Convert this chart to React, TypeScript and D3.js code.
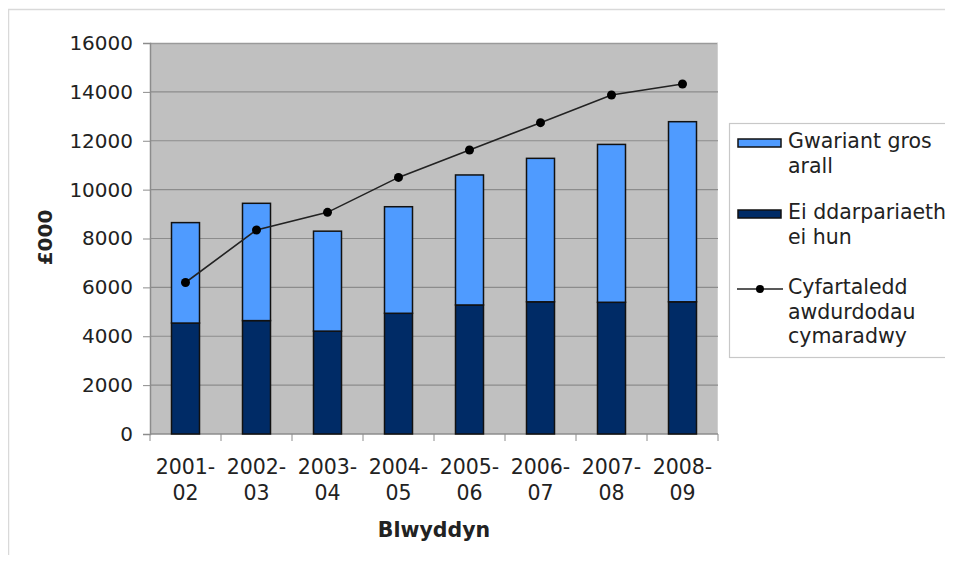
import React, { useEffect, useRef } from 'react';
import * as d3 from 'd3';

const years = ['2001-02', '2002-03', '2003-04', '2004-05', '2005-06', '2006-07', '2007-08', '2008-09'];
const ownProvision = [4540, 4640, 4210, 4940, 5280, 5410, 5390, 5410];
const otherGross = [4110, 4800, 4090, 4360, 5320, 5870, 6460, 7370];
const comparableAvg = [6200, 8350, 9070, 10500, 11620, 12740, 13870, 14320];
const yTicks = [0, 2000, 4000, 6000, 8000, 10000, 12000, 14000, 16000];

const seriesNames = ['Gwariant gros arall', 'Ei ddarpariaeth ei hun', 'Cyfartaledd awdurdodau cymaradwy'];

const W = 953;
const H = 563;
const font = 'DejaVu Sans, Verdana, sans-serif';

const App: React.FC = () => {
  const ref = useRef<SVGSVGElement | null>(null);

  useEffect(() => {
    if (!ref.current) return;
    const svg = d3.select(ref.current);
    svg.selectAll('*').remove();

    const margin = { top: 43, left: 150, right: 235, bottom: 129 };
    const innerW = W - margin.left - margin.right;
    const innerH = H - margin.top - margin.bottom;

    // outer frame (only top and left visible)
    svg.append('rect').attr('width', W).attr('height', H).attr('fill', '#fff');
    svg.append('line').attr('x1', 8).attr('x2', W).attr('y1', 9.5).attr('y2', 9.5)
      .attr('stroke', '#d9d9d9').attr('stroke-width', 1.5);
    svg.append('line').attr('x1', 8.5).attr('x2', 8.5).attr('y1', 9).attr('y2', H)
      .attr('stroke', '#d9d9d9').attr('stroke-width', 1.5);

    const g = svg.append('g').attr('transform', `translate(${margin.left},${margin.top})`);

    const x = d3.scaleBand().domain(years).range([0, innerW]);
    const y = d3.scaleLinear().domain([0, 16000]).range([innerH, 0]);

    g.append('rect').attr('width', innerW).attr('height', innerH).attr('fill', '#c0c0c0');
    g.append('line').attr('x1', 0).attr('x2', innerW).attr('y1', 0.5).attr('y2', 0.5)
      .attr('stroke', '#9a9a9a').attr('stroke-width', 1.5);
    g.append('line').attr('x1', innerW - 0.5).attr('x2', innerW - 0.5).attr('y1', 0).attr('y2', innerH)
      .attr('stroke', '#d0d0d0').attr('stroke-width', 1);

    g.selectAll('.grid')
      .data(yTicks.filter((t) => t > 0 && t < 16000))
      .enter()
      .append('line')
      .attr('x1', 0)
      .attr('x2', innerW)
      .attr('y1', (d) => y(d))
      .attr('y2', (d) => y(d))
      .attr('stroke', '#8c8c8c')
      .attr('stroke-width', 1.2);

    const yAxis = g.append('g').call(d3.axisLeft(y).tickValues(yTicks).tickSize(7).tickPadding(10).tickFormat(d3.format('d')));
    yAxis.select('.domain').attr('stroke', '#8c8c8c').attr('stroke-width', 1.5);
    yAxis.selectAll('.tick line').attr('stroke', '#8c8c8c');
    yAxis.selectAll('.tick text').attr('font-family', font).attr('font-size', 20).attr('fill', '#222');

    // x axis
    g.append('line').attr('x1', 0).attr('x2', innerW).attr('y1', innerH).attr('y2', innerH)
      .attr('stroke', '#8c8c8c').attr('stroke-width', 1.5);
    g.selectAll('.xtick')
      .data(d3.range(years.length + 1))
      .enter()
      .append('line')
      .attr('x1', (i) => i * x.step())
      .attr('x2', (i) => i * x.step())
      .attr('y1', innerH)
      .attr('y2', innerH + 7)
      .attr('stroke', '#8c8c8c');

    const labels = g.selectAll('.xlab')
      .data(years)
      .enter()
      .append('text')
      .attr('x', (d) => (x(d) || 0) + x.bandwidth() / 2)
      .attr('y', innerH + 40)
      .attr('text-anchor', 'middle')
      .attr('font-family', font)
      .attr('font-size', 20.5)
      .attr('fill', '#222');
    labels.append('tspan').attr('x', (d) => (x(d) || 0) + x.bandwidth() / 2).text((d) => d.slice(0, 5));
    labels.append('tspan').attr('x', (d) => (x(d) || 0) + x.bandwidth() / 2).attr('dy', 26).text((d) => d.slice(5));

    const barW = 28;
    const bx = (d: string) => (x(d) || 0) + x.bandwidth() / 2 - barW / 2;

    g.selectAll('.own')
      .data(years)
      .enter()
      .append('rect')
      .attr('x', (d) => bx(d))
      .attr('y', (d, i) => y(ownProvision[i]))
      .attr('width', barW)
      .attr('height', (d, i) => innerH - y(ownProvision[i]))
      .attr('fill', '#002b66')
      .attr('stroke', '#111')
      .attr('stroke-width', 1.5);

    g.selectAll('.other')
      .data(years)
      .enter()
      .append('rect')
      .attr('x', (d) => bx(d))
      .attr('y', (d, i) => y(ownProvision[i] + otherGross[i]))
      .attr('width', barW)
      .attr('height', (d, i) => y(ownProvision[i]) - y(ownProvision[i] + otherGross[i]))
      .attr('fill', '#4f9bff')
      .attr('stroke', '#111')
      .attr('stroke-width', 1.5);

    const line = d3.line<number>()
      .x((d, i) => (x(years[i]) || 0) + x.bandwidth() / 2)
      .y((d) => y(d));
    g.append('path').datum(comparableAvg).attr('d', line).attr('fill', 'none')
      .attr('stroke', '#222').attr('stroke-width', 1.6);
    g.selectAll('.pt')
      .data(comparableAvg)
      .enter()
      .append('circle')
      .attr('cx', (d, i) => (x(years[i]) || 0) + x.bandwidth() / 2)
      .attr('cy', (d) => y(d))
      .attr('r', 4.5)
      .attr('fill', '#000');

    // axis titles
    svg.append('text')
      .attr('transform', `translate(52,${margin.top + innerH / 2 - 1}) rotate(-90)`)
      .attr('text-anchor', 'middle')
      .attr('font-family', font)
      .attr('font-size', 20)
      .attr('font-weight', 'bold')
      .attr('fill', '#222')
      .text('£000');
    svg.append('text')
      .attr('x', margin.left + innerW / 2)
      .attr('y', 537)
      .attr('text-anchor', 'middle')
      .attr('font-family', font)
      .attr('font-size', 20.5)
      .attr('font-weight', 'bold')
      .attr('fill', '#222')
      .text('Blwyddyn');

    // legend
    const lg = svg.append('g').attr('transform', 'translate(729,123)');
    lg.append('rect').attr('x', 0.5).attr('y', 0.5).attr('width', 222).attr('height', 234)
      .attr('fill', '#fff').attr('stroke', '#c8c8c8').attr('stroke-width', 1.2);
    const legendLines = [
      ['Gwariant gros', 'arall'],
      ['Ei ddarpariaeth', 'ei hun'],
      ['Cyfartaledd', 'awdurdodau', 'cymaradwy'],
    ];
    const tops = [20, 91, 166];
    legendLines.forEach((ls, k) => {
      const row = lg.append('g').attr('transform', `translate(0,${tops[k]})`);
      if (k < 2) {
        row.append('rect').attr('x', 9).attr('y', -4).attr('width', 43).attr('height', 8)
          .attr('fill', k === 0 ? '#4f9bff' : '#002b66').attr('stroke', '#111').attr('stroke-width', 1.5);
      } else {
        row.append('line').attr('x1', 8).attr('x2', 54).attr('y1', 0).attr('y2', 0)
          .attr('stroke', '#222').attr('stroke-width', 1.6);
        row.append('circle').attr('cx', 31).attr('r', 4).attr('fill', '#000');
      }
      const t = row.append('text').attr('font-family', font).attr('font-size', 20.5).attr('fill', '#222')
        .attr('y', 5);
      ls.forEach((s, j) => {
        t.append('tspan').attr('x', 59).attr('dy', j === 0 ? 0 : 24.5).text(s);
      });
      row.append('title').text(seriesNames[k]);
    });
  }, []);

  return <svg ref={ref} width={W} height={H} style={{ display: 'block', margin: -8 }} />;
};

export default App;
